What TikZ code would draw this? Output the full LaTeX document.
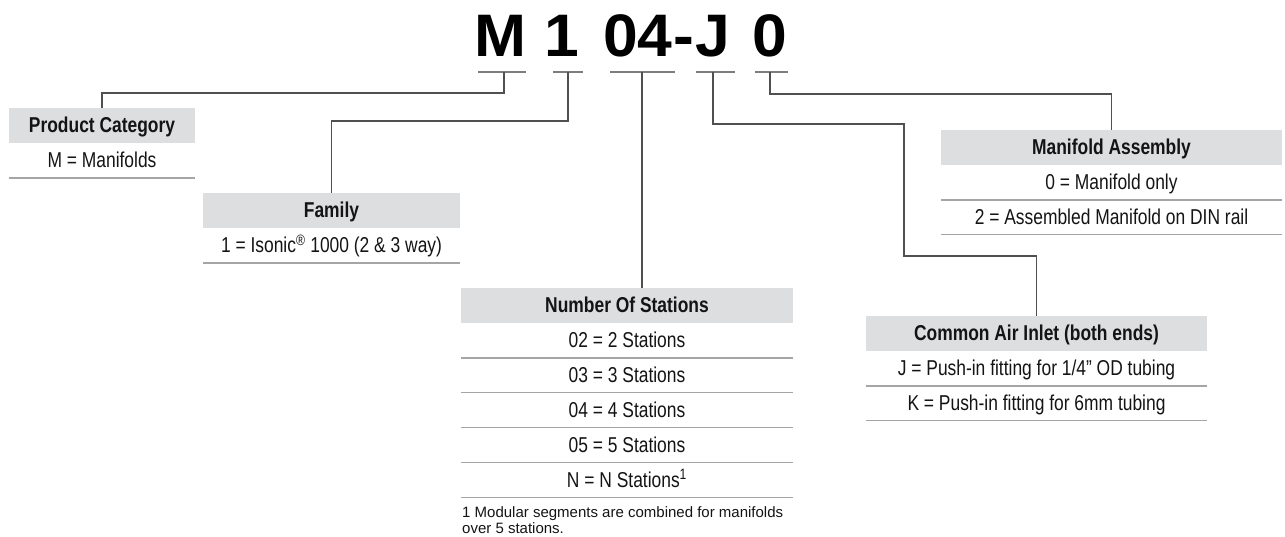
\documentclass[tikz,border=0pt]{standalone}
\usepackage{fontspec}
\setmainfont{Liberation Sans}
\newfontfamily\narrowfont[FakeStretch=0.81]{Liberation Sans}
\newfontfamily\codefont[FakeStretch=1.04]{Liberation Sans}
\usetikzlibrary{positioning}
\definecolor{headgray}{RGB}{221,222,224}
\definecolor{sepgray}{RGB}{165,165,165}
\definecolor{linkgray}{RGB}{80,80,80}
\definecolor{ulgray}{RGB}{125,125,125}
\definecolor{inkblack}{RGB}{20,20,20}
\tikzset{
  head/.style={fill=headgray, minimum height=34.5pt, inner sep=0pt, text height=15pt, text depth=0pt, text=inkblack, font={\narrowfont\bfseries\fontsize{21.5}{25}\selectfont}},
  item/.style={minimum height=34.5pt, inner sep=0pt, text height=15pt, text depth=0pt, text=inkblack, font={\narrowfont\fontsize{21.5}{25}\selectfont}},
  code/.style={anchor=base, inner sep=0pt, font={\codefont\bfseries\fontsize{60}{60}\selectfont}},
  sep/.style={draw=sepgray, line width=1.5pt},
  link/.style={draw=linkgray, line width=1.3pt},
  uline/.style={draw=ulgray, line width=1.3pt}
}
\begin{document}
\begin{tikzpicture}[x=1pt, y=-1pt]
            \useasboundingbox (0,0) rectangle (1285,536);
            \node[code] (cM) at (500,56) {M};
            \node[code] (c1) at (562,56) {1};
            \node[code] (c04) at (638,56) {04};
            \node[code] (cdash) at (683.5,56) {-};
            \node[code] (cJ) at (713,56) {J};
            \node[code] (c0) at (769.5,56) {0};
            \draw[uline] (478,72) -- (526,72);
            \draw[uline] (553,72) -- (583,72);
            \draw[uline] (610,72) -- (675,72);
            \draw[uline] (696,72) -- (735,72);
            \draw[uline] (755,72) -- (788,72);
            \coordinate (uM) at (504,72);
            \coordinate (u1) at (568,72);
            \coordinate (u04) at (642,72);
            \coordinate (uJ) at (713,72);
            \coordinate (u0) at (770,72);
            \coordinate (jbend) at (904,256);
            \node[head, minimum width=186pt, anchor=north] (pc) at (102,108) {Product Category};
            \node[item, minimum width=186pt, below=0pt of pc] (pc1) {M = Manifolds};
            \draw[sep] (pc1.south west) -- (pc1.south east);
            \node[head, minimum width=257pt, anchor=north] (fam) at (331.5,193) {Family};
            \node[item, minimum width=257pt, below=0pt of fam] (fam1) {1 = Isonic\textsuperscript{®} 1000 (2 \& 3 way)};
            \draw[sep] (fam1.south west) -- (fam1.south east);
            \node[head, minimum width=332pt, anchor=north] (st) at (627,288) {Number Of Stations};
            \node[item, minimum width=332pt, below=0pt of st] (st1) {02 = 2 Stations};
            \node[item, minimum width=332pt, below=0pt of st1] (st2) {03 = 3 Stations};
            \node[item, minimum width=332pt, below=0pt of st2] (st3) {04 = 4 Stations};
            \node[item, minimum width=332pt, below=0pt of st3] (st4) {05 = 5 Stations};
            \node[item, minimum width=332pt, below=0pt of st4] (st5) {N = N Stations\textsuperscript{1}};
            \draw[sep] (st1.south west) -- (st1.south east);
            \draw[sep] (st2.south west) -- (st2.south east);
            \draw[sep] (st3.south west) -- (st3.south east);
            \draw[sep] (st4.south west) -- (st4.south east);
            \draw[sep] (st5.south west) -- (st5.south east);
            \node[anchor=north west, inner sep=0pt, align=left, text=inkblack, font={\fontsize{15}{16}\selectfont}] (stnote) at (462,506) {1 Modular segments are combined for manifolds\\over 5 stations.};
            \node[head, minimum width=341pt, anchor=north] (air) at (1036.5,316) {Common Air Inlet (both ends)};
            \node[item, minimum width=341pt, below=0pt of air] (air1) {J = Push-in fitting for 1/4” OD tubing};
            \node[item, minimum width=341pt, below=0pt of air1] (air2) {K = Push-in fitting for 6mm tubing};
            \draw[sep] (air1.south west) -- (air1.south east);
            \draw[sep] (air2.south west) -- (air2.south east);
            \node[head, minimum width=341pt, anchor=north] (asm) at (1111.5,130) {Manifold Assembly};
            \node[item, minimum width=341pt, below=0pt of asm] (asm1) {0 = Manifold only};
            \node[item, minimum width=341pt, below=0pt of asm1] (asm2) {2 = Assembled Manifold on DIN rail};
            \draw[sep] (asm1.south west) -- (asm1.south east);
            \draw[sep] (asm2.south west) -- (asm2.south east);
            \draw[link] (uM) -- ++(0,21) -| (pc.north);
            \draw[link] (u1) -- ++(0,49) -| (fam.north);
            \draw[link] (u04) -- (u04 |- st.north);
            \draw[link] (uJ) -- ++(0,52) -| (jbend) -| (air.north);
            \draw[link] (u0) -- ++(0,22) -| (asm.north);
        \end{tikzpicture}
\end{document}
